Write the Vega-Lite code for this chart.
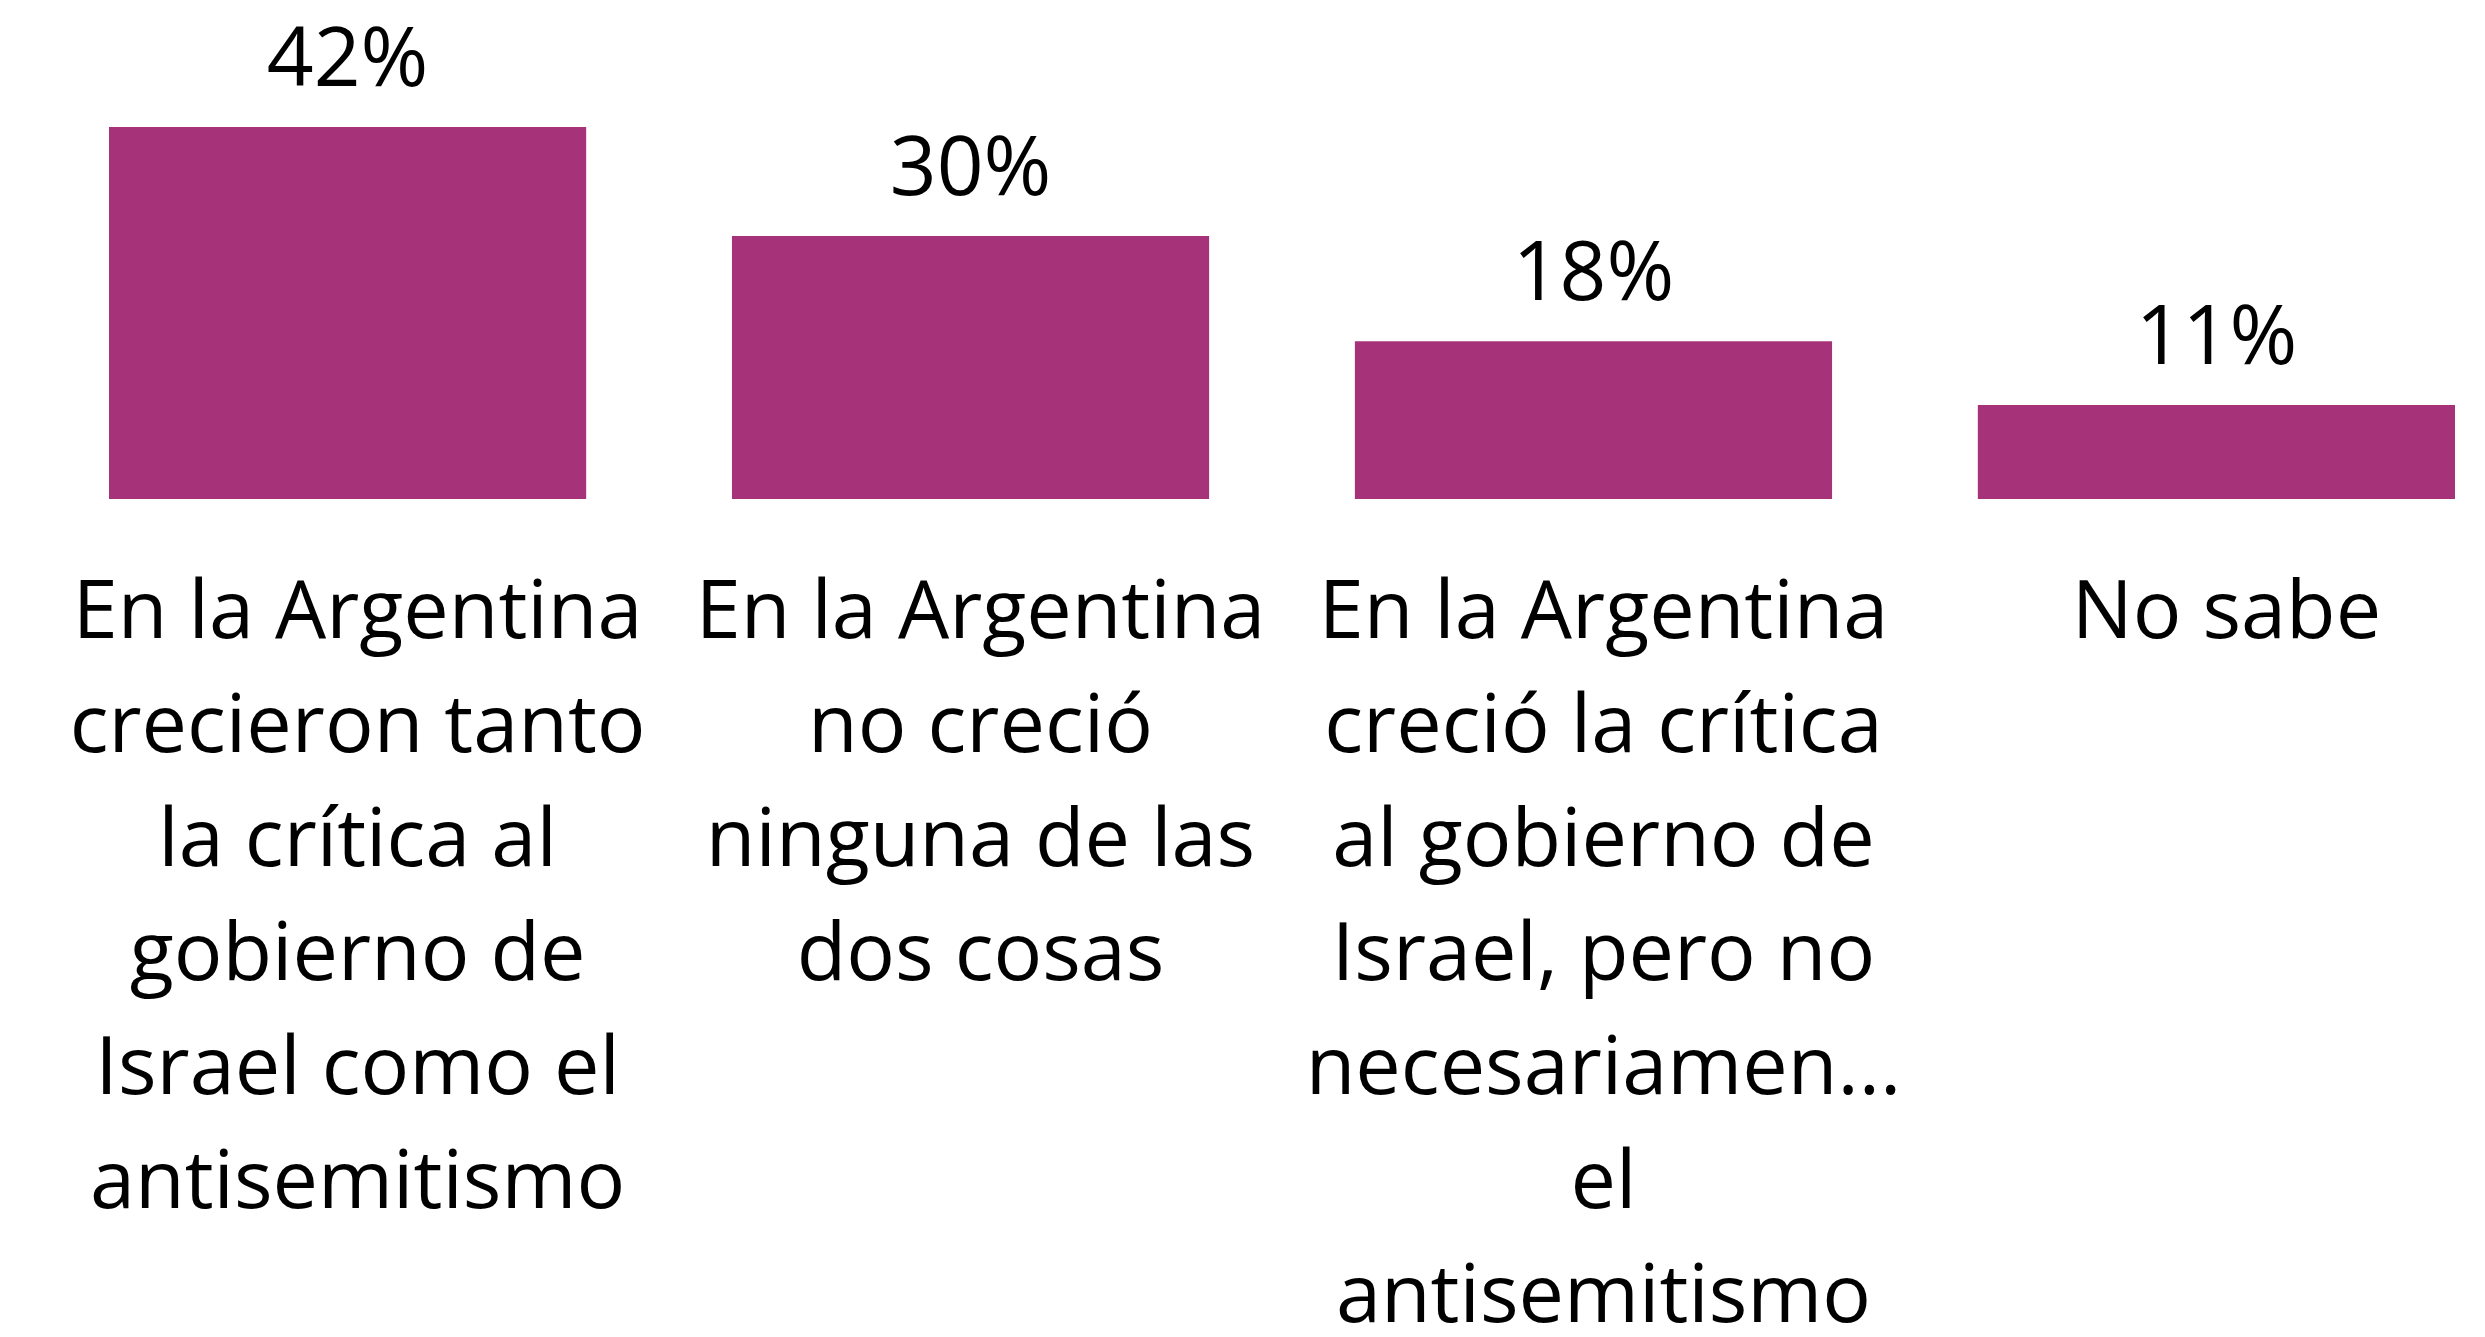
{
  "$schema": "https://vega.github.io/schema/vega-lite/v6.json",
  "width": 2346,
  "height": 372,
  "autosize": {"type": "none"},
  "padding": {"left": 109, "top": 127, "right": 30, "bottom": 838},
  "background": "white",
  "config": {"view": {"stroke": null}},
  "data": {
    "values": [
      {"categoria": "En la Argentina|crecieron tanto|la crítica al|gobierno de|Israel como el|antisemitismo", "valor": 42, "etiqueta": "42%"},
      {"categoria": "En la Argentina|no creció|ninguna de las|dos cosas", "valor": 29.7, "etiqueta": "30%"},
      {"categoria": "En la Argentina|creció la crítica|al gobierno de|Israel, pero no|necesariamen...|el|antisemitismo", "valor": 17.8, "etiqueta": "18%"},
      {"categoria": "No sabe", "valor": 10.6, "etiqueta": "11%"}
    ]
  },
  "encoding": {
    "x": {
      "field": "categoria",
      "type": "nominal",
      "sort": null,
      "scale": {"paddingInner": 0.234, "paddingOuter": 0},
      "axis": {
        "title": null,
        "domain": false,
        "ticks": false,
        "tickSize": 0,
        "grid": false,
        "labelAngle": 0,
        "labelAlign": "center",
        "labelBaseline": "top",
        "labelPadding": 74,
        "labelOffset": 10,
        "labelFont": "Open Sans",
        "labelFontSize": 81,
        "labelLineHeight": 114,
        "labelColor": "#000000",
        "labelLimit": 0,
        "labelOverlap": false,
        "labelExpr": "split(datum.label, '|')"
      }
    },
    "y": {
      "field": "valor",
      "type": "quantitative",
      "scale": {"domain": [0, 42], "nice": false, "zero": true},
      "axis": null
    }
  },
  "layer": [
    {"mark": {"type": "bar", "color": "#A6337A"}},
    {
      "mark": {"type": "text", "baseline": "alphabetic", "align": "center", "dy": -41, "fontSize": 82, "font": "Open Sans", "color": "#000000"},
      "encoding": {"text": {"field": "etiqueta"}}
    }
  ]
}
